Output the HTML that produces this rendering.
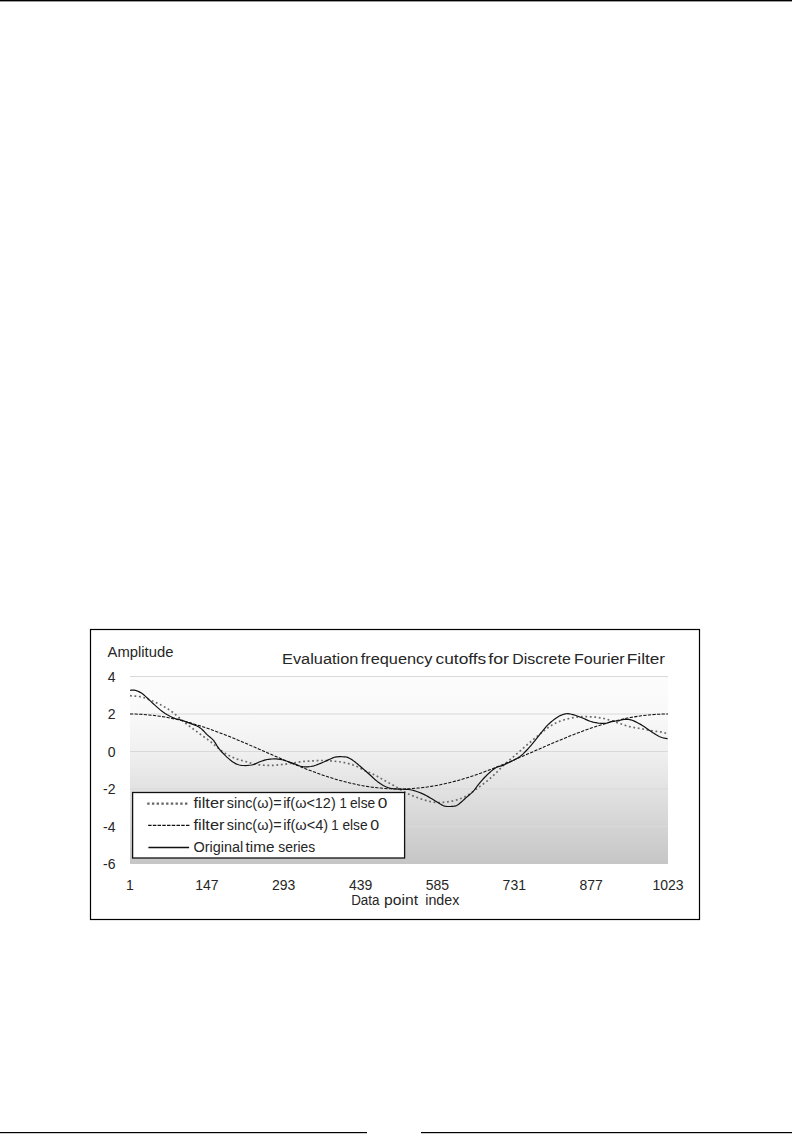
<!DOCTYPE html>
<html><head><meta charset="utf-8"><style>
html,body{margin:0;padding:0;background:#fff;}
body{width:792px;height:1142px;overflow:hidden;position:relative;}
svg{position:absolute;left:0;top:0;}
text{font-family:"Liberation Sans",sans-serif;fill:#262626;}
</style></head><body>
<svg width="792" height="1142" viewBox="0 0 792 1142">
<defs>
<linearGradient id="pg" x1="0" y1="0" x2="0" y2="1">
<stop offset="0" stop-color="#fcfcfc"/>
<stop offset="0.2" stop-color="#f9f9f9"/>
<stop offset="0.4" stop-color="#f0f0f0"/>
<stop offset="1" stop-color="#c6c6c6"/>
</linearGradient>
<clipPath id="pc"><rect x="130" y="660" width="538.5" height="205"/></clipPath>
</defs>
<rect x="0" y="0" width="792" height="1" fill="#000"/>
<rect x="0" y="1" width="792" height="0.4" fill="#000"/>
<rect x="0" y="1132" width="367" height="1.2" fill="#000"/>
<rect x="421" y="1132" width="371" height="1.2" fill="#000"/>
<rect x="90.5" y="629.5" width="609" height="290" fill="#fff" stroke="#000" stroke-width="1.2"/>
<rect x="130" y="676.5" width="538" height="187.5" fill="url(#pg)"/>
<line x1="130" x2="668" y1="676.50" y2="676.50" stroke="#d9d9d9" stroke-width="1"/><line x1="130" x2="668" y1="714.00" y2="714.00" stroke="#d9d9d9" stroke-width="1"/><line x1="130" x2="668" y1="751.50" y2="751.50" stroke="#d9d9d9" stroke-width="1"/><line x1="130" x2="668" y1="789.00" y2="789.00" stroke="#d9d9d9" stroke-width="1"/><line x1="130" x2="668" y1="826.50" y2="826.50" stroke="#d9d9d9" stroke-width="1"/>
<g clip-path="url(#pc)" fill="none" stroke-linejoin="round">
<path d="M130.00 695.70 L131.12 695.79 L132.69 695.90 L134.54 696.04 L136.51 696.22 L138.42 696.43 L140.10 696.70 L141.54 697.01 L142.87 697.35 L144.15 697.73 L145.43 698.16 L146.76 698.65 L148.20 699.20 L149.77 699.82 L151.42 700.51 L153.12 701.26 L154.86 702.04 L156.59 702.86 L158.30 703.70 L160.01 704.56 L161.74 705.47 L163.48 706.40 L165.18 707.36 L166.83 708.33 L168.40 709.30 L169.87 710.28 L171.25 711.26 L172.57 712.26 L173.87 713.28 L175.17 714.33 L176.50 715.40 L177.85 716.52 L179.20 717.70 L180.56 718.90 L181.91 720.10 L183.26 721.27 L184.60 722.40 L185.94 723.47 L187.27 724.50 L188.60 725.51 L189.93 726.51 L191.26 727.50 L192.60 728.50 L193.93 729.50 L195.24 730.48 L196.56 731.46 L197.90 732.44 L199.27 733.45 L200.70 734.50 L202.23 735.61 L203.86 736.77 L205.53 737.96 L207.16 739.13 L208.71 740.26 L210.10 741.30 L211.27 742.23 L212.27 743.06 L213.17 743.84 L214.07 744.62 L215.05 745.46 L216.20 746.40 L217.53 747.48 L218.97 748.66 L220.50 749.90 L222.08 751.14 L223.69 752.32 L225.30 753.40 L226.93 754.38 L228.59 755.32 L230.29 756.20 L232.00 757.03 L233.71 757.79 L235.40 758.50 L237.12 759.13 L238.88 759.69 L240.64 760.19 L242.36 760.65 L244.00 761.08 L245.50 761.50 L246.83 761.90 L248.02 762.26 L249.12 762.59 L250.20 762.91 L251.31 763.21 L252.50 763.50 L253.75 763.79 L255.00 764.08 L256.27 764.35 L257.61 764.60 L259.05 764.82 L260.60 765.00 L262.30 765.15 L264.13 765.27 L266.05 765.36 L268.03 765.42 L270.02 765.43 L272.00 765.40 L274.00 765.31 L276.06 765.16 L278.13 764.97 L280.19 764.75 L282.19 764.52 L284.10 764.30 L285.92 764.07 L287.69 763.82 L289.40 763.56 L291.06 763.29 L292.66 763.04 L294.20 762.80 L295.64 762.58 L296.97 762.36 L298.25 762.15 L299.53 761.95 L300.86 761.77 L302.30 761.60 L303.87 761.45 L305.52 761.32 L307.23 761.20 L308.96 761.09 L310.69 760.99 L312.40 760.90 L314.08 760.80 L315.77 760.71 L317.45 760.62 L319.13 760.55 L320.82 760.51 L322.50 760.50 L324.18 760.54 L325.87 760.60 L327.55 760.70 L329.23 760.82 L330.92 760.95 L332.60 761.10 L334.27 761.24 L335.92 761.39 L337.57 761.55 L339.24 761.74 L340.94 761.99 L342.70 762.30 L344.54 762.67 L346.45 763.09 L348.40 763.56 L350.35 764.09 L352.26 764.66 L354.10 765.30 L355.86 766.02 L357.56 766.84 L359.23 767.71 L360.88 768.60 L362.53 769.47 L364.20 770.30 L365.88 771.07 L367.57 771.80 L369.25 772.51 L370.93 773.24 L372.62 773.99 L374.30 774.80 L375.98 775.67 L377.67 776.59 L379.35 777.53 L381.03 778.49 L382.72 779.45 L384.40 780.40 L386.08 781.33 L387.77 782.25 L389.45 783.18 L391.13 784.10 L392.82 785.04 L394.50 786.00 L396.18 786.99 L397.87 788.02 L399.55 789.06 L401.23 790.09 L402.92 791.08 L404.60 792.00 L406.27 792.86 L407.92 793.66 L409.57 794.43 L411.24 795.17 L412.94 795.89 L414.70 796.60 L416.54 797.31 L418.45 798.02 L420.40 798.71 L422.35 799.37 L424.26 799.97 L426.10 800.50 L427.86 800.97 L429.56 801.40 L431.23 801.77 L432.88 802.09 L434.53 802.33 L436.20 802.50 L437.88 802.58 L439.57 802.57 L441.25 802.50 L442.93 802.37 L444.62 802.20 L446.30 802.00 L447.98 801.78 L449.67 801.52 L451.35 801.22 L453.03 800.87 L454.72 800.47 L456.40 800.00 L458.08 799.48 L459.77 798.93 L461.45 798.32 L463.13 797.64 L464.82 796.87 L466.50 796.00 L468.18 795.00 L469.87 793.88 L471.55 792.68 L473.23 791.42 L474.92 790.15 L476.60 788.90 L478.29 787.67 L480.00 786.42 L481.71 785.16 L483.41 783.89 L485.07 782.60 L486.70 781.30 L488.29 779.97 L489.87 778.61 L491.42 777.24 L492.93 775.87 L494.39 774.52 L495.80 773.20 L497.04 771.98 L498.11 770.87 L499.12 769.77 L500.23 768.60 L501.54 767.27 L503.20 765.70 L505.27 763.83 L507.66 761.72 L510.26 759.45 L512.97 757.10 L515.69 754.76 L518.30 752.50 L520.83 750.30 L523.36 748.09 L525.90 745.88 L528.44 743.69 L530.97 741.52 L533.50 739.40 L536.08 737.25 L538.73 735.05 L541.37 732.88 L543.94 730.81 L546.37 728.93 L548.60 727.30 L550.56 725.97 L552.29 724.87 L553.88 723.96 L555.42 723.16 L557.00 722.43 L558.70 721.70 L560.54 720.98 L562.45 720.33 L564.40 719.74 L566.35 719.21 L568.26 718.73 L570.10 718.30 L571.86 717.92 L573.56 717.60 L575.23 717.34 L576.88 717.12 L578.53 716.94 L580.20 716.80 L581.88 716.70 L583.57 716.65 L585.25 716.64 L586.93 716.67 L588.62 716.72 L590.30 716.80 L591.98 716.89 L593.67 717.00 L595.35 717.14 L597.03 717.32 L598.72 717.53 L600.40 717.80 L602.08 718.12 L603.77 718.49 L605.45 718.89 L607.13 719.34 L608.82 719.81 L610.50 720.30 L612.18 720.83 L613.87 721.41 L615.55 722.01 L617.23 722.63 L618.92 723.23 L620.60 723.80 L622.27 724.35 L623.91 724.90 L625.56 725.44 L627.22 725.96 L628.93 726.45 L630.70 726.90 L632.56 727.30 L634.51 727.65 L636.50 727.97 L638.49 728.27 L640.44 728.58 L642.30 728.90 L644.09 729.24 L645.85 729.60 L647.57 729.96 L649.24 730.31 L650.85 730.62 L652.40 730.90 L653.89 731.12 L655.33 731.29 L656.71 731.43 L658.03 731.57 L659.29 731.72 L660.50 731.90 L661.69 732.14 L662.88 732.42 L664.01 732.71 L665.02 732.99 L665.87 733.23 L666.50 733.40" stroke="#6a6a6a" stroke-width="1.7" stroke-dasharray="1.8 2.7"/>
<path d="M130.00 714.00 L132.69 714.02 L135.38 714.07 L138.07 714.17 L140.76 714.30 L143.45 714.46 L146.14 714.66 L148.83 714.90 L151.52 715.18 L154.21 715.49 L156.90 715.84 L159.59 716.22 L162.28 716.63 L164.97 717.08 L167.66 717.57 L170.35 718.09 L173.04 718.64 L175.73 719.22 L178.42 719.84 L181.11 720.48 L183.80 721.16 L186.49 721.87 L189.18 722.61 L191.87 723.37 L194.56 724.16 L197.25 724.98 L199.94 725.83 L202.63 726.70 L205.32 727.60 L208.01 728.52 L210.70 729.46 L213.39 730.42 L216.08 731.41 L218.77 732.41 L221.46 733.43 L224.15 734.48 L226.84 735.53 L229.53 736.61 L232.22 737.70 L234.91 738.80 L237.60 739.91 L240.29 741.04 L242.98 742.17 L245.67 743.32 L248.36 744.47 L251.05 745.63 L253.74 746.80 L256.43 747.97 L259.12 749.15 L261.81 750.32 L264.50 751.50 L267.19 752.68 L269.88 753.85 L272.57 755.03 L275.26 756.20 L277.95 757.37 L280.64 758.53 L283.33 759.68 L286.02 760.83 L288.71 761.96 L291.40 763.09 L294.09 764.20 L296.78 765.30 L299.47 766.39 L302.16 767.47 L304.85 768.52 L307.54 769.57 L310.23 770.59 L312.92 771.59 L315.61 772.58 L318.30 773.54 L320.99 774.48 L323.68 775.40 L326.37 776.30 L329.06 777.17 L331.75 778.02 L334.44 778.84 L337.13 779.63 L339.82 780.39 L342.51 781.13 L345.20 781.84 L347.89 782.52 L350.58 783.16 L353.27 783.78 L355.96 784.36 L358.65 784.91 L361.34 785.43 L364.03 785.92 L366.72 786.37 L369.41 786.78 L372.10 787.16 L374.79 787.51 L377.48 787.82 L380.17 788.10 L382.86 788.34 L385.55 788.54 L388.24 788.70 L390.93 788.83 L393.62 788.93 L396.31 788.98 L399.00 789.00 L401.69 788.98 L404.38 788.93 L407.07 788.83 L409.76 788.70 L412.45 788.54 L415.14 788.34 L417.83 788.10 L420.52 787.82 L423.21 787.51 L425.90 787.16 L428.59 786.78 L431.28 786.37 L433.97 785.92 L436.66 785.43 L439.35 784.91 L442.04 784.36 L444.73 783.78 L447.42 783.16 L450.11 782.52 L452.80 781.84 L455.49 781.13 L458.18 780.39 L460.87 779.63 L463.56 778.84 L466.25 778.02 L468.94 777.17 L471.63 776.30 L474.32 775.40 L477.01 774.48 L479.70 773.54 L482.39 772.58 L485.08 771.59 L487.77 770.59 L490.46 769.57 L493.15 768.52 L495.84 767.47 L498.53 766.39 L501.22 765.30 L503.91 764.20 L506.60 763.09 L509.29 761.96 L511.98 760.83 L514.67 759.68 L517.36 758.53 L520.05 757.37 L522.74 756.20 L525.43 755.03 L528.12 753.85 L530.81 752.68 L533.50 751.50 L536.19 750.32 L538.88 749.15 L541.57 747.97 L544.26 746.80 L546.95 745.63 L549.64 744.47 L552.33 743.32 L555.02 742.17 L557.71 741.04 L560.40 739.91 L563.09 738.80 L565.78 737.70 L568.47 736.61 L571.16 735.53 L573.85 734.48 L576.54 733.43 L579.23 732.41 L581.92 731.41 L584.61 730.42 L587.30 729.46 L589.99 728.52 L592.68 727.60 L595.37 726.70 L598.06 725.83 L600.75 724.98 L603.44 724.16 L606.13 723.37 L608.82 722.61 L611.51 721.87 L614.20 721.16 L616.89 720.48 L619.58 719.84 L622.27 719.22 L624.96 718.64 L627.65 718.09 L630.34 717.57 L633.03 717.08 L635.72 716.63 L638.41 716.22 L641.10 715.84 L643.79 715.49 L646.48 715.18 L649.17 714.90 L651.86 714.66 L654.55 714.46 L657.24 714.30 L659.93 714.17 L662.62 714.07 L665.31 714.02 L668.00 714.00" stroke="#111" stroke-width="1.05" stroke-dasharray="3.2 1.4"/>
<path d="M130.00 690.30 L130.55 690.27 L131.31 690.21 L132.21 690.16 L133.18 690.13 L134.17 690.17 L135.10 690.30 L136.00 690.54 L136.94 690.85 L137.88 691.23 L138.82 691.66 L139.73 692.12 L140.60 692.60 L141.38 693.07 L142.07 693.53 L142.74 694.02 L143.44 694.59 L144.24 695.27 L145.20 696.10 L146.32 697.12 L147.57 698.29 L148.91 699.58 L150.32 700.94 L151.79 702.33 L153.30 703.70 L154.87 705.11 L156.52 706.60 L158.23 708.12 L159.96 709.62 L161.69 711.03 L163.40 712.30 L165.13 713.45 L166.90 714.53 L168.67 715.52 L170.40 716.43 L172.03 717.22 L173.50 717.90 L174.79 718.42 L175.94 718.77 L176.99 719.01 L177.98 719.21 L178.97 719.42 L180.00 719.70 L181.05 720.04 L182.07 720.38 L183.08 720.73 L184.11 721.10 L185.18 721.49 L186.30 721.90 L187.53 722.35 L188.86 722.85 L190.22 723.37 L191.56 723.88 L192.80 724.37 L193.90 724.80 L194.83 725.16 L195.63 725.47 L196.34 725.76 L197.00 726.04 L197.64 726.34 L198.30 726.70 L198.95 727.09 L199.57 727.48 L200.16 727.90 L200.77 728.36 L201.40 728.89 L202.10 729.50 L202.86 730.22 L203.65 731.03 L204.48 731.91 L205.34 732.82 L206.21 733.73 L207.10 734.60 L208.05 735.47 L209.09 736.37 L210.14 737.26 L211.16 738.12 L212.06 738.91 L212.80 739.60 L213.29 740.09 L213.57 740.40 L213.75 740.64 L213.93 740.93 L214.21 741.38 L214.70 742.10 L215.38 743.13 L216.16 744.39 L217.05 745.81 L218.05 747.32 L219.16 748.87 L220.40 750.40 L221.82 751.98 L223.42 753.67 L225.14 755.41 L226.90 757.09 L228.65 758.65 L230.30 760.00 L231.83 761.16 L233.28 762.19 L234.71 763.10 L236.17 763.87 L237.72 764.51 L239.40 765.00 L241.28 765.33 L243.32 765.50 L245.45 765.53 L247.58 765.44 L249.62 765.26 L251.50 765.00 L253.20 764.60 L254.79 764.04 L256.30 763.39 L257.75 762.70 L259.18 762.05 L260.60 761.50 L261.97 761.03 L263.25 760.59 L264.51 760.18 L265.79 759.82 L267.17 759.52 L268.70 759.30 L270.38 759.12 L272.17 758.98 L274.05 758.89 L276.01 758.90 L278.03 759.03 L280.10 759.30 L282.31 759.78 L284.67 760.46 L287.11 761.26 L289.50 762.10 L291.77 762.90 L293.80 763.60 L295.55 764.23 L297.09 764.86 L298.50 765.45 L299.85 765.98 L301.23 766.41 L302.70 766.70 L304.27 766.86 L305.87 766.91 L307.50 766.86 L309.14 766.72 L310.77 766.50 L312.40 766.20 L314.03 765.80 L315.66 765.27 L317.30 764.67 L318.93 764.01 L320.53 763.35 L322.10 762.70 L323.67 762.04 L325.26 761.32 L326.82 760.59 L328.33 759.89 L329.73 759.25 L331.00 758.70 L332.05 758.25 L332.90 757.87 L333.66 757.55 L334.41 757.29 L335.26 757.07 L336.30 756.90 L337.62 756.78 L339.14 756.71 L340.76 756.70 L342.36 756.73 L343.85 756.80 L345.10 756.90 L346.08 757.03 L346.86 757.19 L347.52 757.38 L348.13 757.63 L348.77 757.93 L349.50 758.30 L350.33 758.75 L351.20 759.27 L352.09 759.86 L352.99 760.48 L353.90 761.13 L354.80 761.80 L355.65 762.45 L356.46 763.10 L357.26 763.77 L358.12 764.50 L359.08 765.34 L360.20 766.30 L361.52 767.44 L363.00 768.74 L364.59 770.14 L366.21 771.57 L367.80 772.98 L369.30 774.30 L370.68 775.55 L372.01 776.79 L373.30 778.00 L374.59 779.18 L375.92 780.31 L377.30 781.40 L378.74 782.46 L380.21 783.51 L381.72 784.52 L383.25 785.46 L384.81 786.29 L386.40 787.00 L388.00 787.56 L389.62 787.99 L391.26 788.32 L392.95 788.58 L394.69 788.80 L396.50 789.00 L398.45 789.15 L400.53 789.22 L402.68 789.25 L404.79 789.28 L406.79 789.35 L408.60 789.50 L410.17 789.72 L411.55 789.98 L412.82 790.28 L414.05 790.63 L415.32 791.03 L416.70 791.50 L418.15 792.01 L419.61 792.55 L421.11 793.15 L422.67 793.83 L424.33 794.60 L426.10 795.50 L428.10 796.61 L430.33 797.93 L432.65 799.36 L434.93 800.77 L437.02 802.05 L438.80 803.10 L440.18 803.91 L441.25 804.58 L442.14 805.13 L442.97 805.56 L443.89 805.91 L445.00 806.20 L446.38 806.40 L447.93 806.49 L449.56 806.50 L451.17 806.44 L452.65 806.33 L453.90 806.20 L454.86 806.07 L455.60 805.93 L456.21 805.74 L456.80 805.46 L457.46 805.06 L458.30 804.50 L459.32 803.74 L460.44 802.80 L461.63 801.74 L462.87 800.60 L464.14 799.44 L465.40 798.30 L466.70 797.17 L468.07 795.99 L469.46 794.79 L470.83 793.59 L472.12 792.38 L473.30 791.20 L474.30 790.06 L475.16 788.96 L475.94 787.87 L476.72 786.75 L477.58 785.57 L478.60 784.30 L479.78 782.91 L481.06 781.40 L482.41 779.84 L483.82 778.27 L485.26 776.74 L486.70 775.30 L488.18 773.89 L489.72 772.47 L491.29 771.09 L492.86 769.80 L494.37 768.66 L495.80 767.70 L497.04 767.05 L498.11 766.68 L499.12 766.45 L500.23 766.22 L501.54 765.85 L503.20 765.20 L505.35 764.22 L507.92 763.03 L510.71 761.69 L513.50 760.29 L516.10 758.90 L518.30 757.60 L520.07 756.40 L521.56 755.23 L522.85 754.08 L524.03 752.92 L525.19 751.74 L526.40 750.50 L527.63 749.23 L528.81 747.95 L529.96 746.64 L531.10 745.29 L532.28 743.88 L533.50 742.40 L534.79 740.81 L536.13 739.11 L537.50 737.35 L538.87 735.59 L540.21 733.89 L541.50 732.30 L542.72 730.82 L543.90 729.39 L545.04 728.02 L546.19 726.71 L547.37 725.43 L548.60 724.20 L549.92 722.98 L551.30 721.79 L552.72 720.64 L554.12 719.56 L555.46 718.57 L556.70 717.70 L557.83 716.96 L558.88 716.33 L559.87 715.80 L560.82 715.34 L561.76 714.95 L562.70 714.60 L563.62 714.29 L564.48 714.04 L565.33 713.86 L566.20 713.73 L567.11 713.68 L568.10 713.70 L569.17 713.81 L570.31 714.00 L571.49 714.26 L572.70 714.57 L573.94 714.92 L575.20 715.30 L576.49 715.72 L577.83 716.20 L579.20 716.71 L580.57 717.25 L581.91 717.78 L583.20 718.30 L584.42 718.81 L585.60 719.34 L586.74 719.87 L587.89 720.39 L589.07 720.87 L590.30 721.30 L591.60 721.69 L592.96 722.05 L594.35 722.38 L595.74 722.66 L597.10 722.91 L598.40 723.10 L599.64 723.25 L600.84 723.37 L602.02 723.44 L603.18 723.46 L604.33 723.41 L605.50 723.30 L606.69 723.08 L607.89 722.74 L609.09 722.34 L610.27 721.94 L611.42 721.57 L612.50 721.30 L613.50 721.14 L614.42 721.06 L615.30 721.02 L616.18 720.99 L617.10 720.92 L618.10 720.80 L619.18 720.58 L620.33 720.28 L621.51 719.96 L622.71 719.65 L623.91 719.42 L625.10 719.30 L626.24 719.27 L627.35 719.30 L628.46 719.39 L629.61 719.57 L630.84 719.87 L632.20 720.30 L633.71 720.89 L635.34 721.63 L637.06 722.47 L638.82 723.41 L640.58 724.39 L642.30 725.40 L644.01 726.48 L645.74 727.68 L647.47 728.93 L649.18 730.17 L650.83 731.35 L652.40 732.40 L653.88 733.34 L655.29 734.22 L656.64 735.03 L657.95 735.77 L659.23 736.43 L660.50 737.00 L661.82 737.47 L663.20 737.84 L664.56 738.14 L665.80 738.37 L666.84 738.55 L667.60 738.70" stroke="#111" stroke-width="1.2"/>
</g>
<rect x="132.6" y="792.5" width="272" height="65.5" fill="#fff" stroke="#111" stroke-width="1.3"/>
<line x1="147.2" x2="187.8" y1="803.7" y2="803.7" stroke="#666" stroke-width="2.2" stroke-dasharray="2.4 2.32"/>
<line x1="148.1" x2="189.5" y1="825.4" y2="825.4" stroke="#111" stroke-width="1.2" stroke-dasharray="3.5 1.23"/>
<line x1="148.4" x2="189.1" y1="847.6" y2="847.6" stroke="#111" stroke-width="1.5"/>
<g font-size="14px">
<text x="115.5" y="681.6" text-anchor="end">4</text><text x="115.5" y="719.1" text-anchor="end">2</text><text x="115.5" y="756.6" text-anchor="end">0</text><text x="115.5" y="794.1" text-anchor="end">-2</text><text x="115.5" y="831.6" text-anchor="end">-4</text><text x="115.5" y="869.1" text-anchor="end">-6</text>
<text x="130.0" y="889.9" text-anchor="middle">1</text><text x="206.9" y="889.9" text-anchor="middle">147</text><text x="283.7" y="889.9" text-anchor="middle">293</text><text x="360.6" y="889.9" text-anchor="middle">439</text><text x="437.4" y="889.9" text-anchor="middle">585</text><text x="514.3" y="889.9" text-anchor="middle">731</text><text x="591.1" y="889.9" text-anchor="middle">877</text><text x="668.0" y="889.9" text-anchor="middle">1023</text>
</g>
<text x="107.63" y="656.70" font-size="14px" textLength="65.77" lengthAdjust="spacingAndGlyphs">Amplitude</text>
<text x="281.99" y="663.60" font-size="15.5px" textLength="76.37" lengthAdjust="spacingAndGlyphs">Evaluation</text>
<text x="360.76" y="663.60" font-size="15.5px" textLength="71.55" lengthAdjust="spacingAndGlyphs">frequency</text>
<text x="435.52" y="663.60" font-size="15.5px" textLength="50.75" lengthAdjust="spacingAndGlyphs">cutoffs</text>
<text x="488.23" y="663.60" font-size="15.5px" textLength="20.67" lengthAdjust="spacingAndGlyphs">for</text>
<text x="512.33" y="663.60" font-size="15.5px" textLength="58.43" lengthAdjust="spacingAndGlyphs">Discrete</text>
<text x="574.02" y="663.60" font-size="15.5px" textLength="50.66" lengthAdjust="spacingAndGlyphs">Fourier</text>
<text x="626.82" y="663.60" font-size="15.5px" textLength="38.28" lengthAdjust="spacingAndGlyphs">Filter</text>
<text x="351.13" y="904.50" font-size="14px" textLength="28.30" lengthAdjust="spacingAndGlyphs">Data</text>
<text x="384.08" y="904.50" font-size="14px" textLength="33.95" lengthAdjust="spacingAndGlyphs">point</text>
<text x="425.27" y="904.50" font-size="14px" textLength="34.08" lengthAdjust="spacingAndGlyphs">index</text>
<text x="193.55" y="808.40" font-size="14px" textLength="30.86" lengthAdjust="spacingAndGlyphs">filter</text>
<text x="226.77" y="808.40" font-size="14px" textLength="54.84" lengthAdjust="spacingAndGlyphs">sinc(ω)=</text>
<text x="283.16" y="808.40" font-size="14px" textLength="52.55" lengthAdjust="spacingAndGlyphs">if(ω&lt;12)</text>
<text x="339.51" y="808.40" font-size="14px" textLength="7.37" lengthAdjust="spacingAndGlyphs">1</text>
<text x="349.98" y="808.40" font-size="14px" textLength="25.23" lengthAdjust="spacingAndGlyphs">else</text>
<text x="377.71" y="808.40" font-size="14px" textLength="9.60" lengthAdjust="spacingAndGlyphs">0</text>
<text x="193.55" y="830.00" font-size="14px" textLength="30.86" lengthAdjust="spacingAndGlyphs">filter</text>
<text x="226.77" y="830.00" font-size="14px" textLength="54.84" lengthAdjust="spacingAndGlyphs">sinc(ω)=</text>
<text x="283.15" y="830.00" font-size="14px" textLength="44.95" lengthAdjust="spacingAndGlyphs">if(ω&lt;4)</text>
<text x="331.31" y="830.00" font-size="14px" textLength="7.37" lengthAdjust="spacingAndGlyphs">1</text>
<text x="342.38" y="830.00" font-size="14px" textLength="25.23" lengthAdjust="spacingAndGlyphs">else</text>
<text x="370.16" y="830.00" font-size="14px" textLength="8.90" lengthAdjust="spacingAndGlyphs">0</text>
<text x="193.45" y="851.60" font-size="14px" textLength="49.70" lengthAdjust="spacingAndGlyphs">Original</text>
<text x="245.57" y="851.60" font-size="14px" textLength="28.80" lengthAdjust="spacingAndGlyphs">time</text>
<text x="278.28" y="851.60" font-size="14px" textLength="36.97" lengthAdjust="spacingAndGlyphs">series</text>
</svg>
</body></html>
